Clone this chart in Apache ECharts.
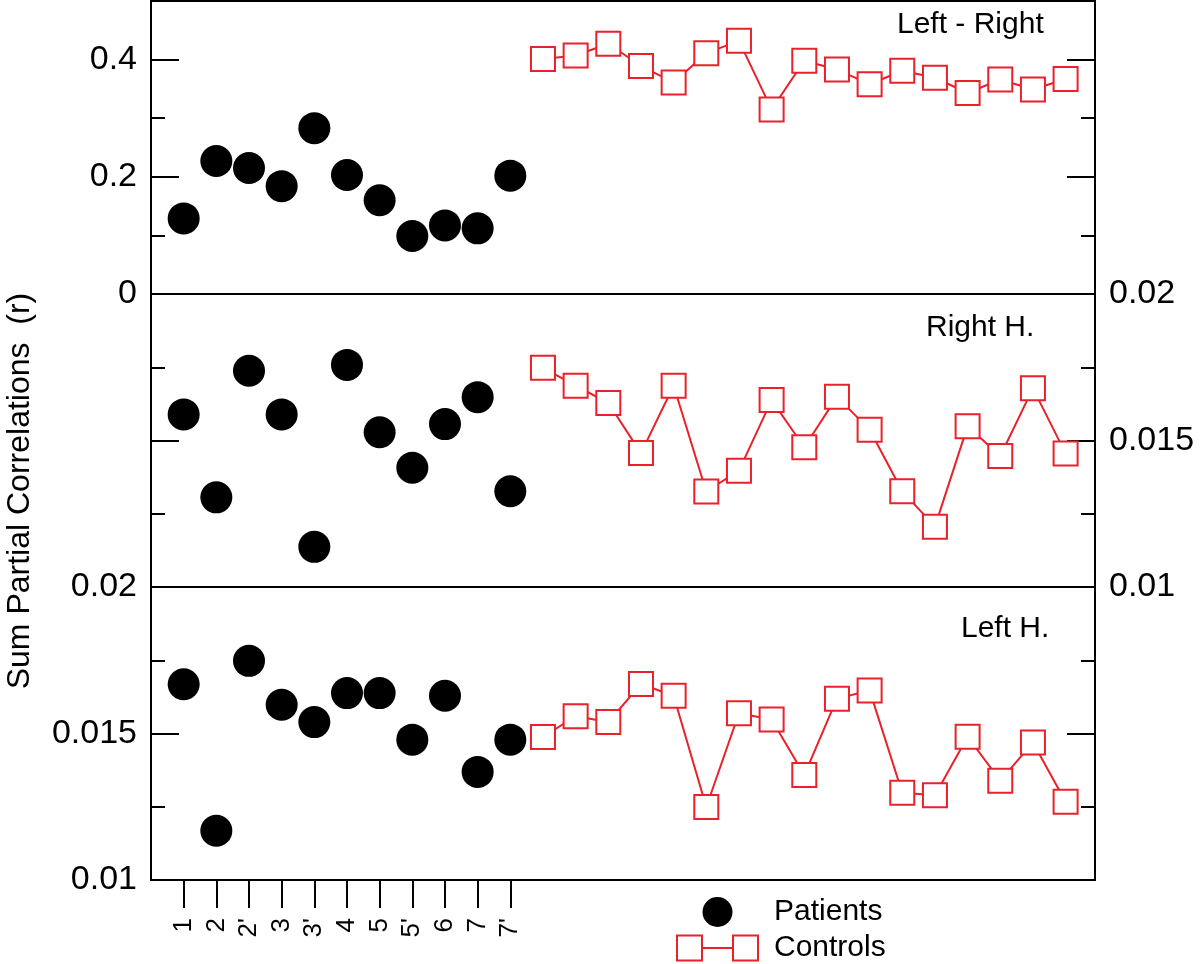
<!DOCTYPE html>
<html>
<head>
<meta charset="utf-8">
<script src="https://cdn.jsdelivr.net/npm/echarts@6/dist/echarts.min.js"></script>
<style>
html,body{margin:0;padding:0;background:#fff;}
#chart{width:1200px;height:964px;}
</style>
</head>
<body>
<div id="chart"></div>
<script>
// ---- Data ----
const patientLabels = ["1", "2", "2'", "3", "3'", "4", "5", "5'", "6", "7", "7'"];
const panelTitles = ["Left - Right", "Right H.", "Left H."];

const patientsLR = [0.129, 0.227, 0.215, 0.184, 0.283, 0.203, 0.160, 0.099, 0.117, 0.112, 0.202];
const controlsLR = [0.401, 0.407, 0.427, 0.389, 0.361, 0.411, 0.432, 0.315, 0.398, 0.383, 0.358, 0.381, 0.369, 0.343, 0.366, 0.349, 0.367];

const patientsRH = [0.01589, 0.01306, 0.01738, 0.01589, 0.01137, 0.01758, 0.01528, 0.01407, 0.01556, 0.01648, 0.01327];
const controlsRH = [0.01748, 0.01687, 0.01628, 0.01457, 0.01687, 0.01326, 0.01397, 0.01638, 0.01477, 0.01649, 0.01537, 0.01327, 0.01206, 0.01549, 0.01447, 0.01678, 0.01456];

const patientsLH = [0.01668, 0.01168, 0.01748, 0.01598, 0.01539, 0.01638, 0.01638, 0.01479, 0.01629, 0.01369, 0.01479];
const controlsLH = [0.01488, 0.01559, 0.01539, 0.01669, 0.01629, 0.01249, 0.01569, 0.01548, 0.01358, 0.01619, 0.01647, 0.01298, 0.01289, 0.01489, 0.01339, 0.01469, 0.01267];

// ---- Styling ----
const FONT = '"Liberation Sans", Arial, Helvetica, sans-serif';
const RED = '#e8212a';

const nP = patientLabels.length;
const patientPts = arr => arr.map((v, i) => [i + 1, v]);
const controlPts = arr => arr.map((v, i) => [nP + i + 1, v]);
const tickXs = patientLabels.map((_, i) => i + 1);

const grids = [
  {left: 151, right: 105, top: 1, height: 293},
  {left: 151, right: 105, top: 294, height: 293},
  {left: 151, right: 105, top: 587, height: 293}
].map(g => Object.assign(g, {show: true, borderColor: '#000', borderWidth: 2, backgroundColor: 'transparent'}));

const ranges = [
  {min: 0, max: 0.5, major: 0.2, minor: 0.1, leftLabels: true, rightLabels: false},
  {min: 0.01, max: 0.02, major: 0.005, minor: 0.0025, leftLabels: false, rightLabels: true},
  {min: 0.01, max: 0.02, major: 0.005, minor: 0.0025, leftLabels: true, rightLabels: false}
];

function yAx(g, pos, r, interval, len, showLabel) {
  return {
    type: 'value', gridIndex: g, position: pos, min: r.min, max: r.max, interval: interval,
    splitLine: {show: false},
    axisLine: {show: false, onZero: false},
    axisTick: {show: true, inside: true, length: len, lineStyle: {color: '#000', width: 2}},
    axisLabel: {show: showLabel, showMaxLabel: g === 0 ? false : true, color: '#000', fontSize: 34, fontFamily: FONT, margin: 14}
  };
}

const yAxes = [];
ranges.forEach((r, g) => {
  yAxes.push(yAx(g, 'left', r, r.major, 28, r.leftLabels));   // index g*4
  yAxes.push(yAx(g, 'left', r, r.minor, 14, false));
  yAxes.push(yAx(g, 'right', r, r.major, 28, r.rightLabels));
  yAxes.push(yAx(g, 'right', r, r.minor, 14, false));
});

const xAxes = [0, 1, 2].map(g => ({
  type: 'value', gridIndex: g, min: 0, max: 28.9,
  show: g === 2,
  splitLine: {show: false},
  axisLine: {show: false, onZero: false},
  axisTick: {show: true, inside: false, length: 28, customValues: tickXs, lineStyle: {color: '#000', width: 2}},
  axisLabel: {
    show: true, customValues: tickXs, rotate: 90, margin: 38, color: '#000', fontSize: 26, fontFamily: FONT,
    formatter: v => patientLabels[Math.round(v) - 1] || ''
  }
}));

const patientSets = [patientsLR, patientsRH, patientsLH];
const controlSets = [controlsLR, controlsRH, controlsLH];
const series = [];
[0, 1, 2].forEach(g => {
  series.push({
    name: 'Patients', type: 'scatter', xAxisIndex: g, yAxisIndex: g * 4,
    data: patientPts(patientSets[g]), symbol: 'circle', symbolSize: 32,
    itemStyle: {color: '#000', opacity: 1}, z: 3
  });
  series.push({
    name: 'Controls', type: 'line', xAxisIndex: g, yAxisIndex: g * 4,
    data: controlPts(controlSets[g]), symbol: 'rect', symbolSize: 24, showSymbol: true,
    itemStyle: {color: '#fff', borderColor: RED, borderWidth: 2, opacity: 1},
    lineStyle: {color: RED, width: 2}, z: 3
  });
});

const titlePos = [[897, 25], [926, 328], [961, 629]];
const graphics = panelTitles.map((t, i) => ({
  type: 'text', x: titlePos[i][0], y: titlePos[i][1],
  style: {text: t, fontSize: 30, fontFamily: FONT, fill: '#000', textAlign: 'left', textVerticalAlign: 'middle'}
}));
graphics.push({
  type: 'text', x: 20, y: 491, rotation: Math.PI / 2,
  style: {text: 'Sum Partial Correlations  (r)', fontSize: 32, fontFamily: FONT, fill: '#000', textAlign: 'center', textVerticalAlign: 'middle'}
});

const chart = echarts.init(document.getElementById('chart'), null, {renderer: 'canvas'});
chart.setOption({
  animation: false,
  backgroundColor: '#fff',
  grid: grids,
  xAxis: xAxes,
  yAxis: yAxes,
  series: series,
  graphic: graphics,
  legend: {
    orient: 'vertical', left: 676, top: 897, itemWidth: 81, itemHeight: 30, itemGap: 6,
    padding: 0, selectedMode: false,
    textStyle: {fontSize: 30, lineHeight: 30, color: '#000', fontFamily: FONT, padding: [0, 0, 0, 11]},
    data: [
      {name: 'Patients', icon: 'circle', itemStyle: {color: '#000', borderWidth: 0, opacity: 1}},
      {name: 'Controls', icon: 'path://M0,0H25V25H0Z M56,0H81V25H56Z M25,12.5H56',
       itemStyle: {color: '#fff', borderColor: RED, borderWidth: 2, opacity: 1}}
    ]
  }
});
</script>
</body>
</html>
